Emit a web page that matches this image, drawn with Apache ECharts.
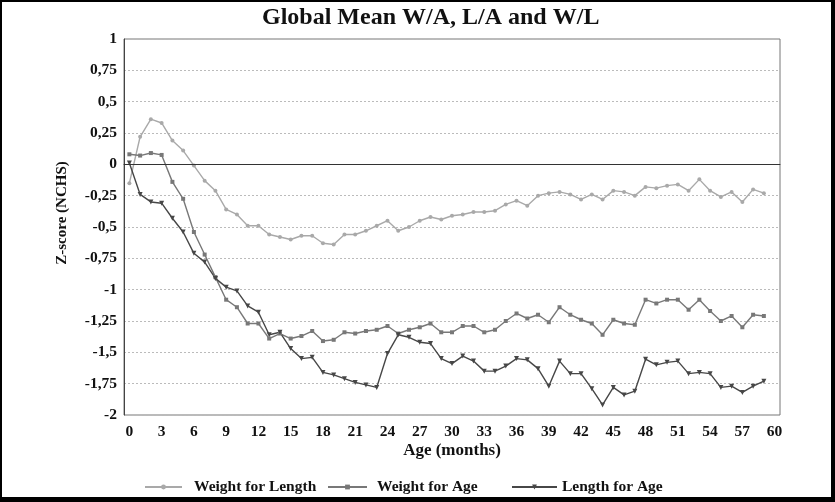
<!DOCTYPE html>
<html>
<head>
<meta charset="utf-8">
<script src="https://cdn.jsdelivr.net/npm/echarts@6/dist/echarts.min.js"></script>
<style>
html,body{margin:0;padding:0;background:#fff;}
#chart{position:absolute;left:0;top:0;width:835px;height:502px;}
#frame{position:absolute;left:0;top:0;width:835px;height:502px;box-sizing:border-box;border-style:solid;border-color:#000;border-width:2px 4px 5px 2px;pointer-events:none;}
</style>
</head>
<body>
<div id="chart"></div>
<div id="frame"></div>
<script>
// Categories: age in months (0..60)
const months = [];
for (let m = 0; m <= 60; m++) months.push(String(m));

// Weight for Length
const weightForLength = [
  -0.15, 0.22, 0.36, 0.33, 0.19, 0.11, -0.01, -0.13, -0.21, -0.36,
  -0.40, -0.49, -0.49, -0.56, -0.58, -0.60, -0.57, -0.57, -0.63, -0.64,
  -0.56, -0.56, -0.53, -0.49, -0.45, -0.53, -0.50, -0.45, -0.42, -0.44,
  -0.41, -0.40, -0.38, -0.38, -0.37, -0.32, -0.29, -0.33, -0.25, -0.23,
  -0.22, -0.24, -0.28, -0.24, -0.28, -0.21, -0.22, -0.25, -0.18, -0.19,
  -0.17, -0.16, -0.21, -0.12, -0.21, -0.26, -0.22, -0.30, -0.20, -0.23
];
// Weight for Age
const weightForAge = [
  0.08, 0.07, 0.09, 0.075, -0.14, -0.275, -0.54, -0.72, -0.90, -1.08,
  -1.14, -1.27, -1.27, -1.39, -1.35, -1.39, -1.37, -1.33, -1.41, -1.40,
  -1.34, -1.35, -1.33, -1.32, -1.29, -1.35, -1.32, -1.30, -1.27, -1.34,
  -1.34, -1.29, -1.29, -1.34, -1.32, -1.25, -1.19, -1.23, -1.20, -1.26,
  -1.14, -1.20, -1.24, -1.27, -1.36, -1.24, -1.27, -1.28, -1.08, -1.11,
  -1.08, -1.08, -1.16, -1.08, -1.17, -1.25, -1.21, -1.30, -1.20, -1.21
];
// Length for Age
const lengthForAge = [
  0.01, -0.24, -0.30, -0.31, -0.43, -0.54, -0.71, -0.78, -0.91, -0.98,
  -1.01, -1.13, -1.18, -1.36, -1.34, -1.47, -1.55, -1.54, -1.66, -1.68,
  -1.71, -1.74, -1.76, -1.78, -1.51, -1.36, -1.38, -1.42, -1.43, -1.55,
  -1.59, -1.53, -1.57, -1.65, -1.65, -1.61, -1.55, -1.56, -1.63, -1.77,
  -1.57, -1.67, -1.67, -1.79, -1.92, -1.78, -1.84, -1.81, -1.555, -1.60,
  -1.58, -1.57, -1.67, -1.66, -1.67, -1.78, -1.77, -1.82, -1.77, -1.73
];

const seriesNames = ['Weight for Length', 'Weight for Age', 'Length for Age'];
const titleText = 'Global Mean W/A, L/A and W/L';
const xName = 'Age (months)';
const yName = 'Z-score (NCHS)';

const FONT = '"Liberation Serif", "Times New Roman", serif';
const colors = ['#a9a9a9', '#787878', '#474747'];

const chart = echarts.init(document.getElementById('chart'), null, {renderer: 'canvas'});

function legendFor(name, left, w, gap) {
  return {
    data: [name], left: left, top: 479, padding: 0, itemWidth: w, itemHeight: 6, itemGap: 0,
    textStyle: {fontFamily: FONT, fontWeight: 'bold', fontSize: 15.5, color: '#111', padding: [0, 0, 0, gap]},
    selectedMode: false
  };
}

chart.setOption({
  animation: false,
  backgroundColor: '#fff',
  title: {
    text: titleText, left: 262, top: 6, padding: 0,
    textStyle: {fontFamily: FONT, fontWeight: 'bold', fontSize: 24, color: '#111'}
  },
  legend: [
    legendFor(seriesNames[0], 144, 37, 7),
    legendFor(seriesNames[1], 327, 39, 5),
    legendFor(seriesNames[2], 511, 45, 0)
  ],
  grid: {left: 124, right: 55, top: 39, bottom: 87, show: true, borderColor: '#777', borderWidth: 1, backgroundColor: 'transparent'},
  xAxis: {
    type: 'category', data: months, boundaryGap: true,
    axisLine: {lineStyle: {color: '#444', width: 1}},
    axisTick: {show: false},
    axisLabel: {interval: 2, margin: 9, fontFamily: FONT, fontWeight: 'bold', fontSize: 15.5, color: '#111'},
    splitLine: {show: false}
  },
  yAxis: {
    type: 'value', min: -2, max: 1, interval: 0.25,
    axisLine: {show: true, lineStyle: {color: '#444', width: 1}},
    axisTick: {show: false},
    axisLabel: {margin: 7, fontFamily: FONT, fontWeight: 'bold', fontSize: 15.5, color: '#111',
      formatter: v => String(Number(v.toFixed(2))).replace('.', ',')},
    splitLine: {show: true, lineStyle: {color: '#bbb', type: [2, 2], width: 1}}
  },
  graphic: [
    {type: 'text', x: 452, y: 451, style: {text: xName, font: 'bold 17px ' + FONT, fill: '#111', align: 'center', verticalAlign: 'middle'}},
    {type: 'text', x: 62, y: 213, rotation: Math.PI / 2, style: {text: yName, font: 'bold 15px ' + FONT, fill: '#111', align: 'center', verticalAlign: 'middle'}}
  ],
  series: [
    {
      name: seriesNames[0], type: 'line', data: weightForLength,
      symbol: 'circle', symbolSize: 4, showAllSymbol: true,
      lineStyle: {color: colors[0], width: 1.4}, itemStyle: {color: colors[0]},
      markLine: {silent: true, symbol: 'none', label: {show: false},
        lineStyle: {color: '#333', type: 'solid', width: 1.2}, data: [{yAxis: 0}]}
    },
    {
      name: seriesNames[1], type: 'line', data: weightForAge,
      symbol: 'rect', symbolSize: 4, showAllSymbol: true,
      lineStyle: {color: colors[1], width: 1.4}, itemStyle: {color: colors[1]}
    },
    {
      name: seriesNames[2], type: 'line', data: lengthForAge,
      symbol: 'triangle', symbolRotate: 180, symbolSize: 5, showAllSymbol: true,
      lineStyle: {color: colors[2], width: 1.4}, itemStyle: {color: colors[2]}
    }
  ]
});
</script>
</body>
</html>
